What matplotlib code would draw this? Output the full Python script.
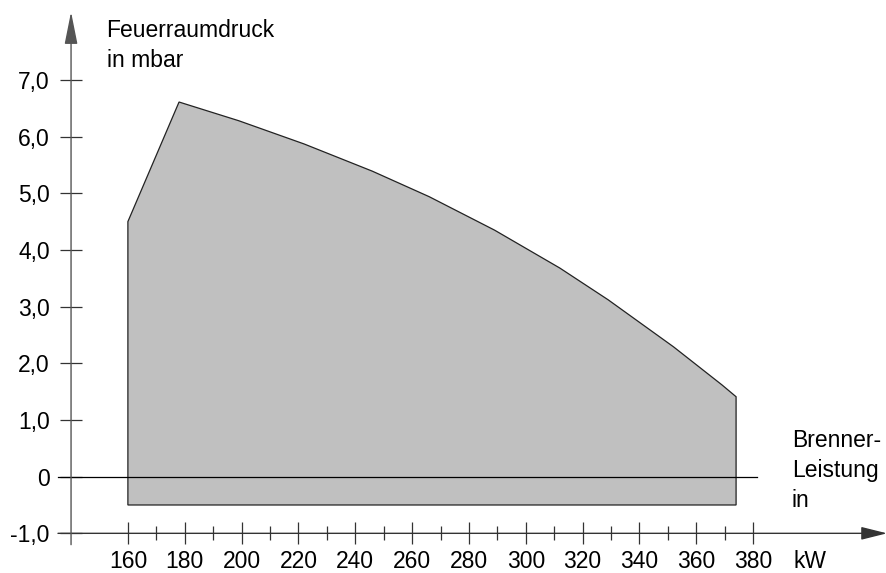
import matplotlib
matplotlib.use("Agg")
import matplotlib.pyplot as plt

plt.rcParams['font.family'] = ['Liberation Sans', 'DejaVu Sans']

# Arbeitsfeld des Brenners (Umriss der grauen Fläche)
leistung_kw = [160, 160, 178, 199, 222, 246, 266, 289, 312, 329, 352, 369, 374, 374]
druck_mbar = [-0.5, 4.5, 6.61, 6.28, 5.87, 5.39, 4.94, 4.35, 3.68, 3.12, 2.29, 1.62, 1.41, -0.5]

y_ticks = [-1, 0, 1, 2, 3, 4, 5, 6, 7]
y_labels = ["-1,0", "0", "1,0", "2,0", "3,0", "4,0", "5,0", "6,0", "7,0"]
x_ticks = [160, 180, 200, 220, 240, 260, 280, 300, 320, 340, 360, 380]
x_minor = [170, 190, 210, 230, 250, 270, 290, 310, 330, 350, 370]

FS = 16.5

fig = plt.figure(figsize=(8.87, 5.73), dpi=100)
ax = fig.add_axes([0, 0, 1, 1])
ax.set_xlim(115.0, 427.1)
ax.set_ylim(-1.70, 8.41)

for s in ax.spines.values():
    s.set_visible(False)
ax.spines['left'].set_position(('data', 140))
ax.spines['bottom'].set_position(('data', -1))

# graue Fläche
ax.fill(leistung_kw, druck_mbar, facecolor='#c0c0c0', edgecolor='#222222', linewidth=0.9, zorder=1)

# Nulllinie
ax.plot([135.4, 381.4], [0, 0], color='black', linewidth=0.9, zorder=2)

# Achsen mit Pfeilen
ax.annotate('', xy=(427.1, -1), xytext=(135.4, -1),
            arrowprops=dict(arrowstyle='-|>,head_length=1.6,head_width=0.4', mutation_scale=10,
                            color='#333333', lw=1.0, shrinkA=0, shrinkB=0))
ax.annotate('', xy=(140, 8.2), xytext=(140, -1.2),
            arrowprops=dict(arrowstyle='-|>,head_length=2.0,head_width=0.4', mutation_scale=10,
                            color='#555555', lw=1.0, shrinkA=0, shrinkB=0))

ax.set_yticks(y_ticks)
ax.set_yticklabels(y_labels)
ax.set_xticks(x_ticks)
ax.set_xticks(x_minor, minor=True)
ax.tick_params(axis='y', direction='inout', length=16.5, width=0.9, color='#333333',
               labelsize=FS, pad=7)
ax.tick_params(axis='x', which='major', direction='inout', length=16.5, width=0.9, color='#333333',
               labelsize=FS, pad=4)
ax.tick_params(axis='x', which='minor', direction='inout', length=9.4, width=0.9, color='#333333')

# Texte (va='baseline' richtet die letzte Zeile aus)
ax.text(400, -1.61, "kW", fontsize=FS, ha='center', va='baseline')
ax.text(152.5, 7.23, "Feuerraumdruck\nin mbar", fontsize=FS, ha='left', va='baseline', linespacing=1.4)
ax.text(393.6, -0.54, "Brenner-\nLeistung\nin", fontsize=FS, ha='left', va='baseline', linespacing=1.4)

fig.savefig("out.png", dpi=100)
